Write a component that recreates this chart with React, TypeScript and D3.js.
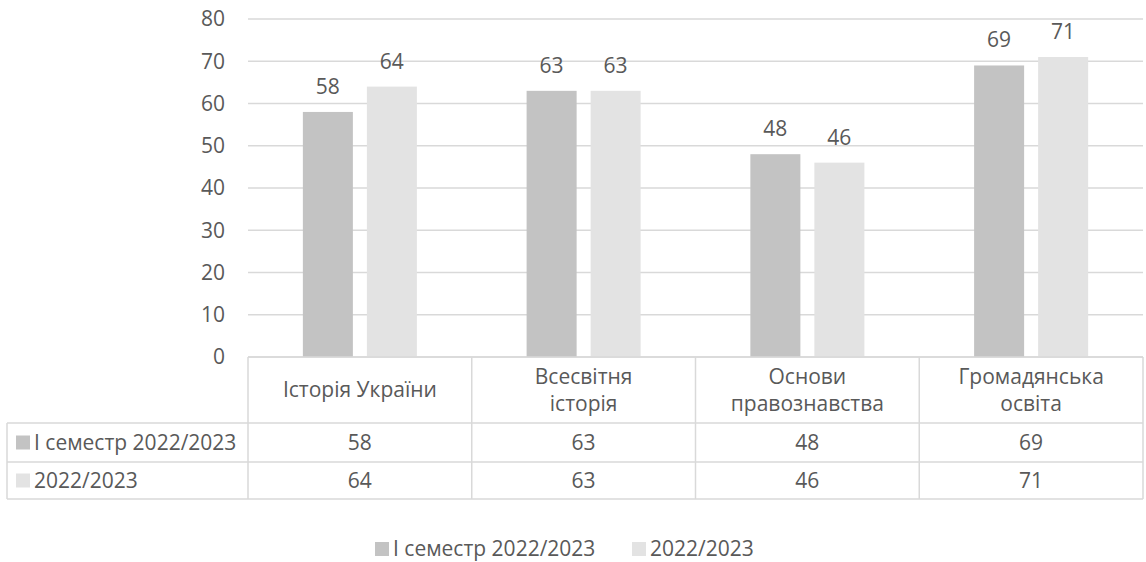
import React from "react";
import * as d3 from "d3";

const categories: string[][] = [
  ["Історія України"],
  ["Всесвітня", "історія"],
  ["Основи", "правознавства"],
  ["Громадянська", "освіта"],
];
const seriesNames = ["І семестр 2022/2023", "2022/2023"];
const semesterValues = [58, 63, 48, 69];
const yearValues = [64, 63, 46, 71];
const yTicks = [0, 10, 20, 30, 40, 50, 60, 70, 80];

const W = 1146;
const H = 562;
const FONT = "'Open Sans', 'Noto Sans', sans-serif";
const TEXT = "#595959";
const GRID = "#d9d9d9";
const COLORS = ["#c3c3c3", "#e3e3e3"];

export default function App() {
  const left = 248;
  const right = 1143;
  const top = 19;
  const bottom = 357;
  const tableLeft = 7;
  const headerBottom = 423;
  const row1Bottom = 462;
  const row2Bottom = 499;
  const fs = 21;

  const keys = categories.map((c) => c.join(" "));
  const y = d3.scaleLinear().domain([0, 80]).range([bottom, top]);
  const x0 = d3.scaleBand<string>().domain(keys).range([left, right]).padding(0);
  const x1 = d3
    .scaleBand<string>()
    .domain(seriesNames)
    .range([0, x0.bandwidth()])
    .paddingInner(0.21875)
    .paddingOuter(0.857);

  const series = [semesterValues, yearValues];
  const rowYs = [[headerBottom, row1Bottom], [row1Bottom, row2Bottom]];

  return (
    <svg
      width={W}
      height={H}
      style={{ position: "absolute", left: 0, top: 0, background: "#fff" }}
      fontFamily={FONT}
    >
      {yTicks.map((t) => (
        <line key={"g" + t} x1={left} x2={right} y1={y(t)} y2={y(t)} stroke={GRID} strokeWidth={1.5} />
      ))}
      {yTicks.map((t) => (
        <text key={"yl" + t} x={225} y={y(t)} dy="0.35em" textAnchor="end" fontSize={fs} fill={TEXT}>
          {t}
        </text>
      ))}
      {series.map((vals, si) =>
        vals.map((v, ci) => {
          const bx = (x0(keys[ci]) as number) + (x1(seriesNames[si]) as number);
          return (
            <g key={`b${si}-${ci}`}>
              <rect x={bx} y={y(v)} width={x1.bandwidth()} height={bottom - y(v)} fill={COLORS[si]} />
              <text x={bx + x1.bandwidth() / 2} y={y(v) - 18} textAnchor="middle" fontSize={fs} fill={TEXT}>
                {v}
              </text>
            </g>
          );
        })
      )}
      <g stroke={GRID} strokeWidth={1.5} fill="none">
        <line x1={left} x2={right} y1={bottom} y2={bottom} />
        <line x1={tableLeft} x2={right} y1={headerBottom} y2={headerBottom} />
        <line x1={tableLeft} x2={right} y1={row1Bottom} y2={row1Bottom} />
        <line x1={tableLeft} x2={right} y1={row2Bottom} y2={row2Bottom} />
        <line x1={tableLeft} x2={tableLeft} y1={headerBottom} y2={row2Bottom} />
        <line x1={left} x2={left} y1={bottom} y2={row2Bottom} />
        {keys.map((k) => (
          <line
            key={"v" + k}
            x1={(x0(k) as number) + x0.bandwidth()}
            x2={(x0(k) as number) + x0.bandwidth()}
            y1={bottom}
            y2={row2Bottom}
          />
        ))}
      </g>
      {categories.map((lines, ci) => {
        const cx = (x0(keys[ci]) as number) + x0.bandwidth() / 2;
        const cy = (bottom + headerBottom) / 2;
        const lh = 27;
        return (
          <text key={"c" + ci} textAnchor="middle" fontSize={fs} fill={TEXT}>
            {lines.map((l, li) => (
              <tspan key={li} x={cx} y={cy + (li - (lines.length - 1) / 2) * lh} dy="0.35em">
                {l}
              </tspan>
            ))}
          </text>
        );
      })}
      {series.map((vals, si) => {
        const [r0, r1] = rowYs[si];
        const cy = (r0 + r1) / 2;
        return (
          <g key={"r" + si}>
            <rect x={16} y={cy - 7} width={14} height={14} fill={COLORS[si]} />
            <text x={34} y={cy} dy="0.35em" fontSize={fs} fill={TEXT}>
              {seriesNames[si]}
            </text>
            {vals.map((v, ci) => (
              <text
                key={ci}
                x={(x0(keys[ci]) as number) + x0.bandwidth() / 2}
                y={cy}
                dy="0.35em"
                textAnchor="middle"
                fontSize={fs}
                fill={TEXT}
              >
                {v}
              </text>
            ))}
          </g>
        );
      })}
      {[375, 632].map((lx, si) => (
        <g key={"lg" + si}>
          <rect x={lx} y={549 - 7} width={14} height={14} fill={COLORS[si]} />
          <text x={lx + 18} y={549} dy="0.35em" fontSize={fs} fill={TEXT}>
            {seriesNames[si]}
          </text>
        </g>
      ))}
    </svg>
  );
}
